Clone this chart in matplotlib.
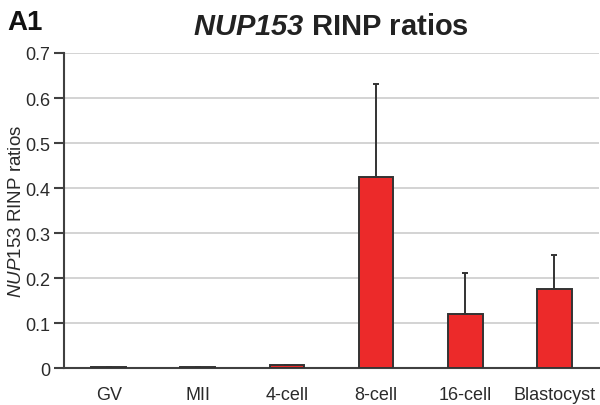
import matplotlib
matplotlib.use('Agg')
import matplotlib.pyplot as plt
import numpy as np

plt.rcParams['font.family'] = ['Liberation Sans', 'DejaVu Sans']
plt.rcParams['mathtext.fontset'] = 'custom'
plt.rcParams['mathtext.rm'] = 'Liberation Sans'
plt.rcParams['mathtext.it'] = 'Liberation Sans:italic'
plt.rcParams['mathtext.bf'] = 'Liberation Sans:bold'
plt.rcParams['mathtext.bfit'] = 'Liberation Sans:italic:bold'

# data
stages = ['GV', 'MII', '4-cell', '8-cell', '16-cell', 'Blastocyst']
ratios = [0.002, 0.002, 0.006, 0.424, 0.119, 0.176]
errors = [0.0, 0.0, 0.0, 0.207, 0.093, 0.075]
yticks = [0, 0.1, 0.2, 0.3, 0.4, 0.5, 0.6, 0.7]

bar_red = '#ec2a2a'
dark = '#333333'

fig = plt.figure(figsize=(6.0, 4.06), dpi=100)
ax = fig.add_axes([0.107, 0.091, 0.891, 0.776])

x = np.arange(len(stages))
ax.bar(x, ratios, width=0.39, color=bar_red, edgecolor=dark, linewidth=1.4, zorder=3)
ax.errorbar(x, ratios, yerr=[np.zeros(len(errors)), errors], fmt='none',
            ecolor=dark, elinewidth=1.4, capsize=2.5, capthick=1.4, zorder=4)

ax.set_xlim(-0.5, len(stages) - 0.5)
ax.set_ylim(0, 0.7)
ax.set_yticks(yticks)
ax.set_yticklabels(['0', '0.1', '0.2', '0.3', '0.4', '0.5', '0.6', '0.7'])
ax.set_xticks(x)
ax.set_xticklabels(stages)
ax.yaxis.grid(True, color='#cccccc', linewidth=1.2, zorder=0)
ax.set_axisbelow(True)

for s in ['top', 'right']:
    ax.spines[s].set_visible(False)
ax.spines['left'].set_color('#404040')
ax.spines['bottom'].set_color('#404040')
ax.spines['left'].set_linewidth(1.5)
ax.spines['bottom'].set_linewidth(1.5)
ax.tick_params(axis='y', direction='out', length=7, width=1.5, color='#404040',
               labelsize=13, labelcolor='#2a2a2a', pad=3)
ax.tick_params(axis='x', length=0, labelsize=13, labelcolor='#2a2a2a', pad=13)

ax.set_ylabel(r'$\mathit{NUP153}$ RINP ratios', fontsize=13.5, color='#2a2a2a')
ax.yaxis.set_label_coords(-0.073, 0.5)
fig.text(0.552, 0.914, r'$\mathbfit{NUP153}$ RINP ratios', fontsize=21, fontweight='bold',
         color='#222222', ha='center', va='baseline')
fig.text(0.012, 0.925, 'A1', fontsize=20, fontweight='bold', color='#111111')

fig.savefig('out.png', dpi=100)
